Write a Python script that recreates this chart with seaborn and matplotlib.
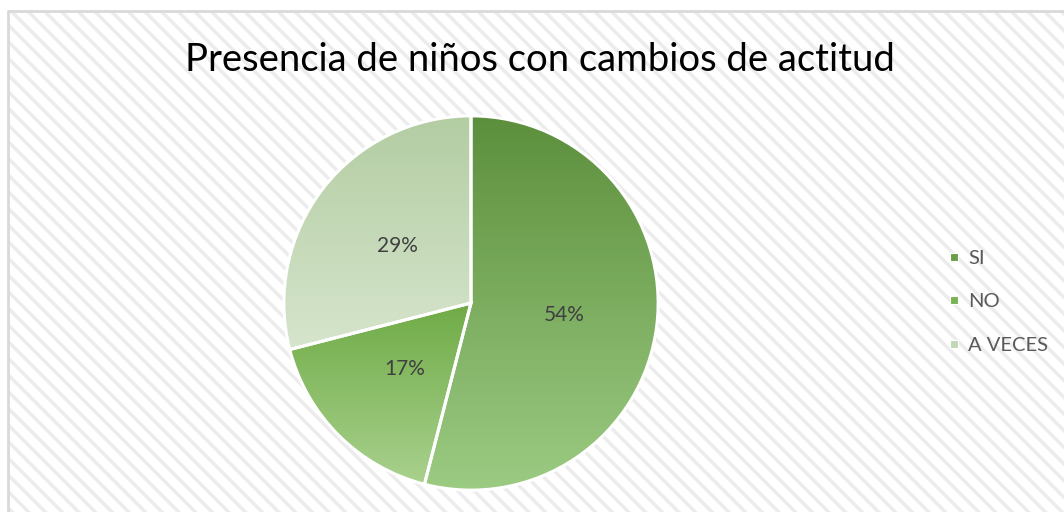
import numpy as np
import matplotlib
matplotlib.use("Agg")
import matplotlib.pyplot as plt
from matplotlib.patches import Rectangle
from matplotlib.lines import Line2D
import seaborn as sns

# datos
categorias = ["SI", "NO", "A VECES"]
porcentajes = [54, 17, 29]
titulo = "Presencia de niños con cambios de actitud"

# colores (arriba -> abajo del degradado)
col_arriba = ["#5c8f3c", "#6fab46", "#b3cda3"]
col_abajo = ["#9ccb83", "#a9d18e", "#d6e5cc"]
col_legenda = ["#6a9e48", "#78b452", "#c2d8b4"]

sns.set_theme(style="white")
plt.rcParams['font.family'] = ['Lato', 'DejaVu Sans']
plt.rcParams['hatch.linewidth'] = 2.5

fig = plt.figure(figsize=(10.64, 5.12), dpi=100)
fig.patch.set_facecolor("white")

# fondo rayado del area del grafico
bg = fig.add_axes([0, 0, 1, 1])
bg.set_xlim(0, 1064)
bg.set_ylim(512, 0)
bg.axis("off")
bg.add_patch(Rectangle((8, 11), 1064, 512, facecolor="white", edgecolor="#ececec",
                       hatch="\\\\", linewidth=0, zorder=0))
bg.plot([8, 1064], [11, 11], color="#d9d9d9", lw=2, zorder=1)
bg.plot([8, 8], [11, 512], color="#d9d9d9", lw=2, zorder=1)

# pastel
ax = fig.add_axes([282 / 1064, 20 / 512, 378 / 1064, 378 / 512])
wedges, textos, autotextos = ax.pie(
    porcentajes, startangle=90, counterclock=False, radius=1,
    autopct="%1.0f%%", pctdistance=0.5,
    colors=col_legenda,
    wedgeprops=dict(edgecolor="white", linewidth=2.2),
    textprops=dict(color="#404040", fontsize=15),
)

# degradado vertical en cada porcion
for w, c1, c2 in zip(wedges, col_arriba, col_abajo):
    path = w.get_path().transformed(w.get_patch_transform())
    x0, y0 = path.vertices.min(axis=0)
    x1, y1 = path.vertices.max(axis=0)
    cmap = matplotlib.colors.LinearSegmentedColormap.from_list("g", [c1, c2])
    grad = np.linspace(0, 1, 256).reshape(-1, 1)
    im = ax.imshow(grad, cmap=cmap, extent=[x0, x1, y0, y1], origin="upper",
                   aspect="auto", zorder=w.get_zorder() + 0.1, interpolation="bilinear")
    im.set_clip_path(w)
    w.set_facecolor("none")
    w.set_zorder(w.get_zorder() + 0.2)

for t in autotextos:
    t.set_zorder(5)
ax.set_xlim(-1.01, 1.01)
ax.set_ylim(-1.01, 1.01)
ax.set_aspect("equal")
ax.axis("off")

# titulo
fig.text(540 / 1064, 1 - 60 / 512, titulo, ha="center", va="center",
         fontsize=27.5, color="#000000")

# leyenda
handles = [Line2D([], [], marker="s", linestyle="none", markersize=6,
                  markerfacecolor=c, markeredgecolor="white", markeredgewidth=0.8)
           for c in col_legenda]
fig.legend(handles, categorias, loc="upper left",
           bbox_to_anchor=(936 / 1064, 1 - 240 / 512), frameon=False,
           fontsize=14.5, labelcolor="#595959", handlelength=0.8,
           handletextpad=0.3, labelspacing=1.3, borderpad=0)

fig.savefig("out.png", dpi=100)
